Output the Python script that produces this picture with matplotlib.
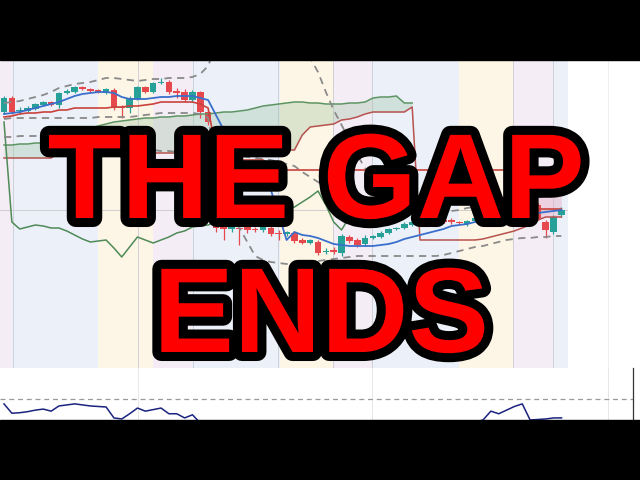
import numpy as np
import matplotlib
matplotlib.use("Agg")
import matplotlib.pyplot as plt
import matplotlib.patheffects as pe
from matplotlib.patches import Rectangle
from matplotlib.lines import Line2D

nan = np.nan

# candles (price units, arbitrary scale)
opens = [256, 270, 257, 257, 259, 263, 266, 263, 275, 276,
         281, 279, 278, 275, 278, 261, 260, 269, 281, 276,
         285, 286, 277, 276, 268, 276, 256, 146, 142, 139,
         140, 141, 139, 138, 140, 135, 134, 135, 128, 125,
         126, 116, 118, 115, 131, 128, 124, 130, 131, 135,
         139, 140, 143, 146, 144, 145, 148, 148, 146, 144,
         147, 150, 156, 158, 163, 168, 173, 178, 163, 146,
         136, 153]
highs = [272, 272, 261, 262, 265, 267, 267, 276, 279, 282,
         282, 280, 279, 280, 280, 263, 272, 282, 282, 286,
         290, 288, 280, 279, 278, 277, 258, 150, 146, 144,
         143, 143, 141, 143, 142, 138, 137, 137, 130, 129,
         128, 120, 121, 134, 133, 130, 133, 133, 137, 140,
         141, 146, 147, 148, 147, 149, 149, 150, 147, 148,
         151, 158, 161, 165, 171, 176, 181, 180, 165, 148,
         153, 161]
lows = [254, 254, 254, 256, 258, 262, 262, 260, 274, 275,
        278, 276, 275, 274, 258, 250, 255, 268, 275, 275,
        284, 274, 270, 266, 266, 250, 243, 136, 128, 136,
        123, 135, 136, 136, 132, 128, 132, 125, 124, 124,
        113, 114, 114, 112, 125, 121, 122, 129, 130, 134,
        138, 139, 142, 142, 143, 144, 145, 144, 144, 142,
        146, 148, 153, 156, 161, 166, 171, 160, 148, 130,
        134, 151]
closes = [270, 256, 258, 260, 264, 266, 263, 275, 277, 281,
          279, 277, 276, 279, 260, 260, 270, 281, 276, 285,
          286, 276, 275, 268, 276, 256, 246, 140, 139, 141,
          139, 138, 138, 141, 134, 134, 136, 127, 125, 128,
          115, 117, 116, 132, 127, 123, 130, 132, 135, 139,
          140, 144, 146, 144, 145, 147, 146, 146, 145, 147,
          150, 156, 158, 163, 168, 173, 178, 163, 149, 138,
          151, 158]

# ichimoku lines
tenkan = [254, 255, 256, 258, 260, 262, 264, 266, 269, 272,
          274, 275, 276, 276, 275, 271, 269, 269, 269, 270,
          271, 271, 272, 272, 272, 270, 268, 253, 238, 223,
          208, 198, 190, 184, 178, 153, 128, 136, 133, 132,
          130, 127, 124, 123, 122, 122, 122, 122, 123, 124,
          126, 129, 131, 133, 135, 137, 139, 142, 143, 144,
          146, 147, 148, 149, 150, 151, 152, 154, 155, 156,
          157, 158]
kijun = [251, 252, 254, 255, 255, 256, 256, 258, 258, 260,
         260, 260, 260, 260, 261, 261, 262, 262, 263, 264,
         266, 266, 266, 266, 266, 264, 260, 218, 216, 216,
         208, 208, 208, 208, 203, 198, 198, 198, 198, 198,
         198, 198, 198, 198, 198, 198, 198, 198, 198, 198,
         198, 198, 198, 198, 198, 198, 198, 198, 198, 198,
         198, 198, 198, 198, 198, 161, 161, 161, 159, 159,
         159, 159]
senkou_a = [223, 223, 224, 224, 225, 225, 226, 228, 231, 234,
            237, 240, 242, 244, 246, 247, 248, 249, 250, 250,
            251, 251, 252, 252, 253, 254, 254, 255, 256, 256,
            257, 258, 260, 262, 263, 264, 265, 266, 266, 265,
            265, 264, 264, 264, 265, 265, 266, 270, 271, 271,
            272, 265, 265, nan, nan, nan, nan, nan, nan, nan,
            nan, nan, nan, nan, nan, nan, nan, nan, 171, 172,
            173, 174]
senkou_b = [210, 210, 210, 210, 210, 210, 210, 215, 215, 215,
            215, 215, 215, 215, 215, 215, 215, 215, 215, 215,
            215, 215, 215, 215, 215, 215, 215, 215, 215, 215,
            215, 216, 216, 217, 217, 218, 218, 218, 233, 241,
            242, 243, 244, 248, 249, 251, 254, 256, 256, 256,
            256, 256, 261, 128, 128, 128, 128, 128, 128, 128,
            128, 129, 131, 133, 135, 137, 140, 143, 148, 151,
            151, 151]
chikou = [246, 146, 139, 141, 143, 142, 140, 140, 137, 133,
          129, 126, 127, 128, 120, 111, 121, 131, 128, 125,
          128, 131, 135, 137, 141, 142, 143, 146, 148, 150,
          152, 154, 155, 156, 156, 156, 158, 161, 166, 171,
          177, 163, 146, 138, 151, 158, nan, nan, nan, nan,
          nan, nan, nan, nan, nan, nan, nan, nan, nan, nan,
          nan, nan, nan, nan, nan, nan, nan, nan, nan, nan,
          nan, nan]

# bands (dashed)
bb_up = [265, 266, 267, 269, 271, 273, 276, 280, 282, 284,
         285, 286, 288, 290, 290, 289, 288, 287, 288, 289,
         289, 290, 290, 290, 291, 294, 302, 323, 343, 353,
         358, 360, 360, 358, 354, 348, 340, 330, 320, 310,
         296, 276, 258, 243, 228, 213, 200, 190, 182, 176,
         171, 167, 164, 161, 159, 157, 156, 157, 158, 160,
         161, 162, 164, 165, 166, 168, 169, 170, 171, 172,
         173, 174]
bb_lo = [249, 250, 250, 250, 250, 250, 250, 250, 250, 250,
         250, 250, 251, 251, 251, 251, 251, 252, 253, 254,
         255, 255, 255, 255, 255, 254, 250, 208, 178, 156,
         140, 126, 112, 108, 106, 105, 104, 104, 105, 106,
         107, 108, 109, 110, 111, 112, 112, 112, 112, 112,
         112, 112, 112, 112, 112, 112, 113, 115, 117, 119,
         121, 122, 124, 126, 128, 129, 130, 130, 131, 131,
         132, 132]
env = [231, 231, 232, 232, 232, 231, 230, 229, 228, 227,
       226, 225, 224, 223, 222, 221, 220, 219, 218, 218,
       217, 217, 216, 216, 215, 215, 214, 214, 213, 213,
       212, 211, 210, 209, 208, 206, 204, 202, 196, 191,
       186, 181, 173, 166, 160, 157, 156, 155, 155, 155,
       155, 155, 155, 155, 155, 155, 156, nan, nan, nan,
       nan, nan, nan, nan, nan, nan, nan, nan, nan, nan,
       nan, nan]

# lower panel oscillator
osc = [31, 13, 14, 16, 19, 21, 17, 27, 29, 31,
       29, 27, 26, 25, 4, 2, 12, 23, 17, 20,
       23, 12, 12, 4, 10, -6, -12, -15, -18, -20,
       -22, -20, -18, -21, -24, -22, -19, -17, -20, -23,
       -25, -22, -20, -18, -21, -24, -22, -20, -17, -15,
       -18, -21, -19, -16, -14, -17, -19, -15, -12, -8,
       -4, 0, 17, 12, 19, 26, 31, 0, 1, 2,
       4, 4]
osc_level = 40

# session shading
band_edges = [-0.51, 1.0, 12.0, 19.0, 23.95, 35.2, 41.9, 46.9, 58.0, 65.0, 69.9, 71.85]
band_cols = ['#f5edf6', '#ebf0f9', '#fdf6e6'] * 4
vgrid = [1.1, 17.1, 24.1, 34.9, 41.9, 46.9, 64.8, 69.9]

UP, DOWN = '#27a197', '#e5484d'

fig = plt.figure(figsize=(6.4, 4.8), dpi=100)
fig.patch.set_facecolor('white')

ax = fig.add_axes([0, 112 / 480, 568 / 640, 308 / 480])
ax.set_xlim(-0.51, 71.85)
ax.set_ylim(0, 308)
ax.axis('off')

for k in range(len(band_edges) - 1):
    ax.axvspan(band_edges[k], band_edges[k + 1], color=band_cols[k], lw=0, zorder=0)
for xv in vgrid:
    ax.axvline(xv, color='#c9ccd3', lw=0.6, zorder=0.5)
ax.axhline(158, color='#cfcfcf', lw=0.7, zorder=0.5)

idx = np.arange(len(closes))
o, h, l, c = map(np.array, (opens, highs, lows, closes))
cols = np.where(c >= o, UP, DOWN)

a = np.array(senkou_a, dtype=float)
b = np.array(senkou_b, dtype=float)
ax.fill_between(idx[:53], a[:53], b[:53], color='#9fc3a4', alpha=0.35, lw=0, zorder=1)
ax.fill_between(idx[68:], a[68:], b[68:], color='#e2a9c0', alpha=0.4, lw=0, zorder=1)

ax.vlines(idx, l, h, colors=cols, lw=0.9, zorder=2)
ax.bar(idx, np.maximum(np.abs(c - o), 1.5), bottom=np.minimum(o, c),
       width=0.84, color=cols, lw=0, zorder=2.5)

ax.plot(idx, senkou_a, color='#5c9462', lw=1.1, zorder=3)
ax.plot(idx, senkou_b, color='#b8524e', lw=1.1, zorder=3)
ax.plot(idx, chikou, color='#4f8a57', lw=1.1, zorder=3)
ax.plot(idx, kijun, color='#c9423c', lw=1.2, zorder=3.2)
ax.plot(idx, tenkan, color='#3a6fcc', lw=1.3, zorder=3.3)
for band in (bb_up, bb_lo, env):
    ax.plot(idx, band, color='#8a8a8a', lw=1.3, ls=(0, (4, 3)), zorder=3.1)

# lower panel
ax2 = fig.add_axes([0, 60 / 480, 633 / 640, 52 / 480])
ax2.set_xlim(-0.51, 80.1)
ax2.set_ylim(0, 100)
ax2.set_xticks([])
ax2.set_yticks([])
for s in ('top', 'left', 'bottom'):
    ax2.spines[s].set_visible(False)
ax2.spines['right'].set_color('#333333')
ax2.spines['right'].set_linewidth(0.9)
for xv in (17.1, 46.9, 76.9):
    ax2.axvline(xv, color='#e3e3e3', lw=0.6)
ax2.axhline(osc_level, color='#9a9a9a', lw=0.9, ls=(0, (4, 3)))
ax2.plot(idx, osc, color='#1a237e', lw=1.1)

fig.add_artist(Line2D([608 / 640] * 2, [112 / 480, 420 / 480], color='#ececec', lw=0.6))

# black bars
fig.add_artist(Rectangle((0, 420 / 480), 1, 60 / 480, transform=fig.transFigure,
                         color='black', zorder=10))
fig.add_artist(Rectangle((0, 0), 1, 60 / 480, transform=fig.transFigure,
                         color='black', zorder=10))

stroke = [pe.withStroke(linewidth=13, foreground='black', joinstyle='round')]
fig.text(0.494, (480 - 218) / 480, "THE GAP", fontsize=87, fontweight='bold',
         family=['Liberation Sans', 'DejaVu Sans'], color='#ff0000',
         ha='center', va='baseline', path_effects=stroke, zorder=20)
fig.text(0.502, (480 - 352) / 480, "ENDS", fontsize=87, fontweight='bold',
         family=['Liberation Sans', 'DejaVu Sans'], color='#ff0000',
         ha='center', va='baseline', path_effects=stroke, zorder=20)

fig.savefig('out.png', dpi=100)
